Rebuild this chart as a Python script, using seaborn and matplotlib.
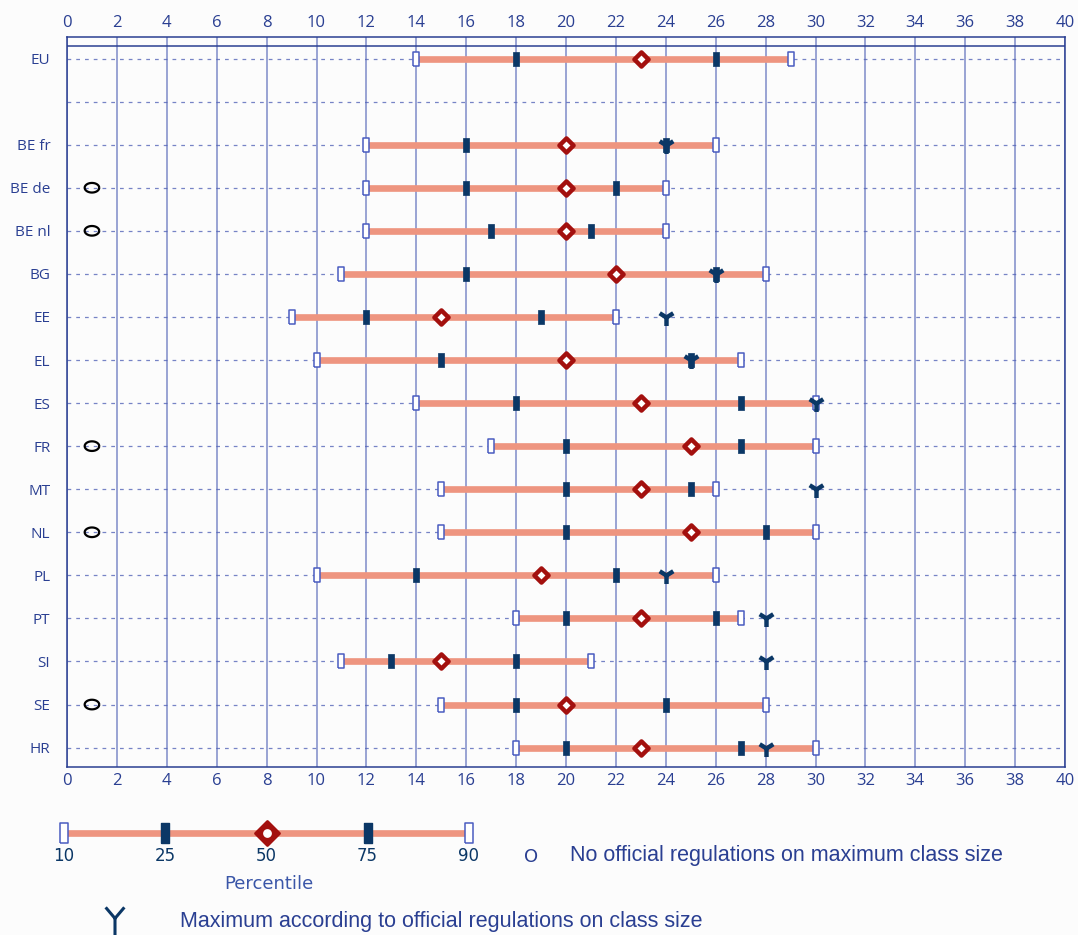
import numpy as np
import pandas as pd
import matplotlib
matplotlib.use("Agg")
import matplotlib.pyplot as plt
from matplotlib.path import Path
import seaborn as sns

# class size percentiles per country
countries = ["EU", "BE fr", "BE de", "BE nl", "BG", "EE", "EL", "ES", "FR",
             "MT", "NL", "PL", "PT", "SI", "SE", "HR"]
p10 = [14, 12, 12, 12, 11, 9, 10, 14, 17, 15, 15, 10, 18, 11, 15, 18]
p25 = [18, 16, 16, 17, 16, 12, 15, 18, 20, 20, 20, 14, 20, 13, 18, 20]
p50 = [23, 20, 20, 20, 22, 15, 20, 23, 25, 23, 25, 19, 23, 15, 20, 23]
p75 = [26, 24, 22, 21, 26, 19, 25, 27, 27, 25, 28, 22, 26, 18, 24, 27]
p90 = [29, 26, 24, 24, 28, 22, 27, 30, 30, 26, 30, 26, 27, 21, 28, 30]
max_reg = [np.nan, 24, np.nan, np.nan, 26, 24, 25, 30, np.nan, 30, np.nan,
           24, 28, 28, np.nan, 28]
no_reg = [False, False, True, True, False, False, False, False, True,
          False, True, False, False, False, True, False]

legend_pct = ["10", "25", "50", "75", "90"]

navy = "#0b3766"
blue = "#2a3f92"
grid_c = "#5565b8"
salmon = "#ee9580"
dred = "#a3100e"

rows = [0] + list(range(2, 17))
df = pd.DataFrame({"country": countries, "row": rows, "p10": p10, "p25": p25,
                   "p50": p50, "p75": p75, "p90": p90, "max": max_reg,
                   "noreg": no_reg})

sns.set_style("white")
plt.rcParams["font.family"] = ["Open Sans", "DejaVu Sans"]

fig = plt.figure(figsize=(10.78, 9.35), dpi=100, facecolor="#fcfcfc")
ax = fig.add_axes([67 / 1078, 1 - 767 / 935, 998 / 1078, 730 / 935])
ax.set_facecolor("#fcfcfc")

ax.set_xlim(0, 40)
ax.set_ylim(16.45, -0.5)

for x in range(0, 41, 2):
    ax.axvline(x, color=grid_c, lw=1.1, alpha=0.75, zorder=1)
for r in range(0, 17):
    ax.axhline(r, color=grid_c, lw=0.9, ls=(0, (3, 4)), alpha=0.8, zorder=1)
ax.axhline(-0.3, color=blue, lw=1.1, zorder=1)

ax.hlines(df["row"], df["p10"], df["p90"], color=salmon, lw=4.8, zorder=2)

rect = [(-0.22, -0.5), (0.22, -0.5), (0.22, 0.5), (-0.22, 0.5), (-0.22, -0.5)]
ell = [(0.5 * np.cos(t), 0.33 * np.sin(t)) for t in np.linspace(0, 2 * np.pi, 40)]

for col in ["p25", "p75"]:
    sns.scatterplot(data=df, x=col, y="row", marker=rect, s=110, color=navy,
                    edgecolor=navy, linewidth=0.5, ax=ax, zorder=3, legend=False)
for col in ["p10", "p90"]:
    sns.scatterplot(data=df, x=col, y="row", marker=rect, s=110, color="white",
                    edgecolor="#4a5cc0", linewidth=1.1, ax=ax, zorder=3, legend=False)
sns.scatterplot(data=df, x="p50", y="row", marker="D", s=52, color="white",
                edgecolor=dred, linewidth=3.2, ax=ax, zorder=4, legend=False)
sns.scatterplot(data=df.dropna(subset=["max"]), x="max", y="row", marker="1",
                s=150, color=navy, linewidth=3.2, ax=ax, zorder=5, legend=False)
nr = df[df["noreg"]].assign(xo=1)
sns.scatterplot(data=nr, x="xo", y="row", marker=ell, s=110, facecolor="none",
                edgecolor="black", linewidth=1.6, ax=ax, zorder=4, legend=False)

ax.set_xticks(range(0, 41, 2))
ax.set_yticks(rows + [1])
ax.set_yticklabels(countries + [""], color=blue, fontsize=11)
ax.tick_params(axis="x", top=True, labeltop=True, bottom=True, labelbottom=True,
               length=0, labelsize=12, labelcolor=blue, pad=4)
ax.tick_params(axis="y", length=0, pad=12)
ax.set_xlabel("")
ax.set_ylabel("")
for s in ax.spines.values():
    s.set_color(blue)
    s.set_linewidth(1.1)

# legend bar
lax = fig.add_axes([64 / 1078, 1 - 848 / 935, 405 / 1078, 30 / 935])
lax.set_xlim(0, 4)
lax.set_ylim(-1, 1)
lax.axis("off")
lx = list(range(len(legend_pct)))
lax.hlines(0, 0, 4, color=salmon, lw=4.8, zorder=2)
lax.scatter([1, 3], [0, 0], marker=rect, s=190, color=navy, zorder=3, clip_on=False)
lax.scatter([0, 4], [0, 0], marker=rect, s=190, color="white",
            edgecolor="#4a5cc0", linewidth=1.1, zorder=3, clip_on=False)
lax.scatter([2], [0], marker="D", s=150, color=dred, edgecolor=dred,
            linewidth=2, zorder=4, clip_on=False)
lax.scatter([2], [0], marker="o", s=28, color="white", zorder=5, clip_on=False)
for x, t in zip(lx, legend_pct):
    fig.text((64 + x * 101.2) / 1078, 1 - 856 / 935, t, ha="center", va="center",
             color=navy, fontsize=12, family=["Liberation Sans Narrow", "DejaVu Sans"])
fig.text(269 / 1078, 1 - 884 / 935, "Percentile", ha="center", va="center",
         color="#3a56a8", fontsize=13, family=["Liberation Sans Narrow", "DejaVu Sans"])

fig.text(531 / 1078, 1 - 857 / 935, "O", ha="center", va="center",
         color="#2a3f92", fontsize=13, family=["Liberation Sans Narrow", "DejaVu Sans"])
fig.text(570 / 1078, 1 - 856 / 935, "No official regulations on maximum class size",
         ha="left", va="center", color=blue, fontsize=15.5,
         family=["Liberation Sans", "DejaVu Sans"])
fig.text(180 / 1078, 1 - 921 / 935, "Maximum according to official regulations on class size",
         ha="left", va="center", color=blue, fontsize=15.5,
         family=["Liberation Sans", "DejaVu Sans"])

# fork-shaped legend marker
fork = Path([(0, 0.05), (0, -1), (0, 0.05), (-0.55, 0.7), (0, 0.05), (0.55, 0.7)],
            [Path.MOVETO, Path.LINETO, Path.MOVETO, Path.LINETO, Path.MOVETO, Path.LINETO])
yax = fig.add_axes([100 / 1078, 1 - 935 / 935, 30 / 1078, 30 / 935])
yax.axis("off")
yax.set_xlim(-1, 1)
yax.set_ylim(-1, 1)
yax.scatter([0], [0.05], marker=fork, s=600, facecolor="none", edgecolor=navy,
            linewidth=2.2, clip_on=False)

fig.savefig("out.png", dpi=100, facecolor=fig.get_facecolor())
